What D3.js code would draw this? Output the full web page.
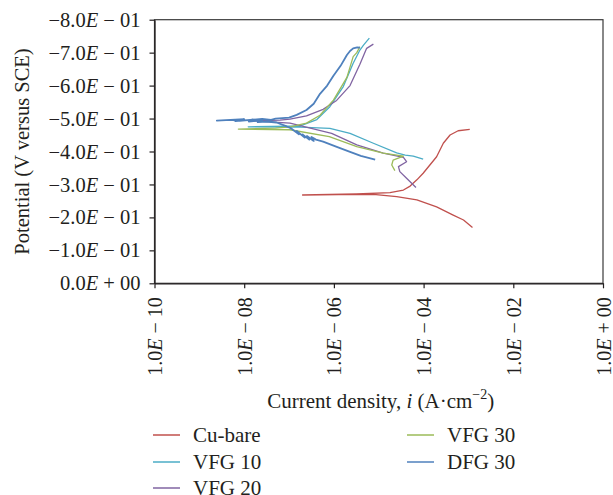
<!DOCTYPE html>
<html>
<head>
<meta charset="utf-8">
<script src="https://cdn.jsdelivr.net/npm/d3@7"></script>
<style>
  body { margin: 0; background: #fff; }
  svg { display: block; }
  text { font-family: "Liberation Serif", "Times New Roman", serif; fill: #231f20; white-space: pre; }
</style>
</head>
<body>
<svg id="chart" width="613" height="495"></svg>
<script>
// tick values
const yTicks = [-0.8, -0.7, -0.6, -0.5, -0.4, -0.3, -0.2, -0.1, 0];
const xTicks = [1e-10, 1e-8, 1e-6, 1e-4, 1e-2, 1e0];

// [current density (A/cm2), potential (V vs SCE)]
const cuBare = [
  [1.23e-3, -0.169], [7.76e-4, -0.192], [4.57e-4, -0.207], [1.95e-4, -0.232],
  [7.08e-5, -0.253], [2.51e-5, -0.263], [7.59e-6, -0.270], [1.26e-6, -0.269],
  [2.0e-7, -0.268], [3.16e-6, -0.271], [1.78e-5, -0.275], [3.55e-5, -0.283],
  [5.01e-5, -0.295], [7.08e-5, -0.314], [9.77e-5, -0.334], [1.38e-4, -0.359],
  [1.95e-4, -0.384], [2.75e-4, -0.425], [3.89e-4, -0.450], [5.89e-4, -0.463],
  [1.07e-3, -0.467]
];
const vfg10 = [
  [9.77e-5, -0.377], [5.89e-5, -0.386], [3.89e-5, -0.389], [2.51e-5, -0.396],
  [7.59e-6, -0.425], [2.29e-6, -0.455], [8.13e-7, -0.470], [1.78e-7, -0.474],
  [1.23e-8, -0.475], [1.0e-7, -0.477], [1.78e-7, -0.478], [4.17e-7, -0.497],
  [8.13e-7, -0.536], [1.62e-6, -0.597], [2.69e-6, -0.668], [3.80e-6, -0.708],
  [4.57e-6, -0.723], [6.17e-6, -0.744]
];
const vfg20 = [
  [6.76e-5, -0.291], [4.17e-5, -0.319], [2.95e-5, -0.339], [2.75e-5, -0.354],
  [4.17e-5, -0.369], [3.55e-5, -0.382], [1.26e-5, -0.395], [3.24e-6, -0.420],
  [8.9e-7, -0.455], [1.05e-7, -0.486], [1.58e-8, -0.493], [6.31e-8, -0.495],
  [1.05e-7, -0.498], [2.45e-7, -0.508], [5.75e-7, -0.528], [1.15e-6, -0.555],
  [2.29e-6, -0.600], [3.80e-6, -0.665], [5.37e-6, -0.713], [7.59e-6, -0.726]
];
const vfg30 = [
  [2.29e-5, -0.342], [1.95e-5, -0.359], [2.09e-5, -0.374], [3.55e-5, -0.386],
  [1.26e-5, -0.395], [3.24e-6, -0.415], [7.9e-7, -0.445], [1.05e-7, -0.466],
  [7.41e-9, -0.468], [5.01e-8, -0.471], [1.05e-7, -0.475], [2.45e-7, -0.486],
  [4.90e-7, -0.510], [9.77e-7, -0.556], [1.95e-6, -0.625], [2.69e-6, -0.688],
  [3.24e-6, -0.700], [3.80e-6, -0.718]
];
const dfg30 = [
  [8.32e-6, -0.375], [3.98e-6, -0.387], [2.29e-6, -0.399], [1.12e-6, -0.415],
  [5.75e-7, -0.430], [3.98e-7, -0.436], [3.16e-7, -0.444], [3.55e-7, -0.432],
  [2.51e-7, -0.447], [2.82e-7, -0.436], [2.0e-7, -0.452], [2.24e-7, -0.442],
  [1.48e-7, -0.462], [1.66e-7, -0.452], [1.12e-7, -0.470], [8.91e-8, -0.476],
  [5.25e-8, -0.488], [3.16e-8, -0.491], [2.0e-8, -0.489], [2.51e-8, -0.495],
  [1.26e-8, -0.491], [1.58e-8, -0.497], [6.31e-9, -0.492], [1.0e-8, -0.498],
  [2.45e-9, -0.494], [5.01e-9, -0.496], [7.94e-9, -0.493], [2.51e-8, -0.499],
  [3.98e-8, -0.496], [5.01e-8, -0.500], [1.0e-7, -0.503], [1.48e-7, -0.511],
  [2.45e-7, -0.526], [3.55e-7, -0.545], [4.90e-7, -0.575], [7.08e-7, -0.600],
  [9.77e-7, -0.630], [1.41e-6, -0.660], [1.95e-6, -0.693], [2.29e-6, -0.705],
  [2.69e-6, -0.713], [3.31e-6, -0.716], [3.80e-6, -0.715]
];

const series = [
  {name: "Cu-bare", data: cuBare, color: "#c0504d"},
  {name: "VFG 10", data: vfg10, color: "#4bacc6"},
  {name: "VFG 20", data: vfg20, color: "#8064a2"},
  {name: "VFG 30", data: vfg30, color: "#9bbb59"},
  {name: "DFG 30", data: dfg30, color: "#4f81bd"}
];

const svg = d3.select("#chart");
const plotL = 154.5, plotR = 603, plotT = 19.7, plotB = 283.3;

const x = d3.scaleLog().domain([1e-10, 1]).range([plotL, plotR]);
const y = d3.scaleLinear().domain([-0.8, 0]).range([plotT, plotB]);

// frame
svg.append("rect")
  .attr("x", plotL).attr("y", plotT)
  .attr("width", plotR - plotL).attr("height", plotB - plotT)
  .attr("fill", "none").attr("stroke", "#3a3a3a").attr("stroke-width", 1.2);

// splits a label like "−8.0E − 01" into parts
function sciParts(v) {
  if (v === 0) return ["0.0", "E", " + 00"];
  const exp = Math.round(Math.log10(Math.abs(v)));
  let m = v / Math.pow(10, exp);
  let e = exp;
  if (Math.abs(m) < 1) { m *= 10; e -= 1; }
  const ms = (m < 0 ? "\u2212" : "") + Math.abs(m).toFixed(1);
  const es = (e < 0 ? " \u2212 " : " + ") + String(Math.abs(e)).padStart(2, "0");
  return [ms, "E", es];
}
function writeSci(sel) {
  sel.each(function (d) {
    const t = d3.select(this);
    const p = sciParts(d);
    t.text(null);
    t.append("tspan").text(p[0]);
    t.append("tspan").attr("font-style", "italic").text(p[1]);
    t.append("tspan").text(p[2]);
  });
}

const yAxis = svg.append("g")
  .attr("transform", `translate(${plotL},0)`)
  .call(d3.axisLeft(y).tickValues(yTicks).tickSize(5).tickSizeOuter(0));
yAxis.select(".domain").attr("stroke", "#231f20").attr("stroke-width", 1.3);
yAxis.selectAll(".tick line").attr("stroke", "#231f20").attr("stroke-width", 1.2);
yAxis.selectAll(".tick text")
  .attr("x", -14).attr("font-size", 20.5).attr("fill", "#231f20")
  .call(writeSci);

const xAxis = svg.append("g")
  .attr("transform", `translate(0,${plotB})`)
  .call(d3.axisBottom(x).tickValues(xTicks).tickSize(5).tickSizeOuter(0));
xAxis.select(".domain").attr("stroke", "#231f20").attr("stroke-width", 1.3);
xAxis.selectAll(".tick line").attr("stroke", "#231f20").attr("stroke-width", 1.2);
xAxis.selectAll(".tick text")
  .attr("transform", "rotate(-90)")
  .attr("text-anchor", "end")
  .attr("x", -14).attr("y", 0).attr("dy", "0.35em")
  .attr("font-size", 20).attr("fill", "#231f20")
  .call(writeSci);

// axis titles
svg.append("text")
  .attr("transform", `translate(29,${(plotT + plotB) / 2}) rotate(-90)`)
  .attr("text-anchor", "middle")
  .attr("font-size", 20.5)
  .text("Potential (V versus SCE)");

const xt = svg.append("text")
  .attr("x", (plotL + plotR) / 2 + 2).attr("y", 408)
  .attr("text-anchor", "middle")
  .attr("font-size", 21);
xt.append("tspan").text("Current density, ");
xt.append("tspan").attr("font-style", "italic").text("i");
xt.append("tspan").text(" (A\u00b7cm");
xt.append("tspan").attr("font-size", 14).attr("dy", -9).text("\u22122");
xt.append("tspan").attr("dy", 9).text(")");

// curves
const line = d3.line().x(d => x(d[0])).y(d => y(d[1]));
svg.append("g")
  .selectAll("path")
  .data(series)
  .enter()
  .append("path")
  .attr("d", d => line(d.data))
  .attr("fill", "none")
  .attr("stroke", d => d.color)
  .attr("stroke-width", d => d.name === "DFG 30" ? 1.8 : 1.3)
  .attr("stroke-linejoin", "round");

// legend
const legendPos = [[153, 435], [153, 462], [153, 488], [407, 435], [407, 462]];
const lg = svg.append("g")
  .selectAll("g")
  .data(series)
  .enter()
  .append("g")
  .attr("transform", (d, i) => `translate(${legendPos[i][0]},${legendPos[i][1]})`);
lg.append("line")
  .attr("x1", 0).attr("x2", 27)
  .attr("stroke", d => d.color).attr("stroke-width", 1.5);
lg.append("text")
  .attr("x", 40).attr("dy", "0.35em")
  .attr("font-size", 21)
  .text(d => d.name);
</script>
</body>
</html>
